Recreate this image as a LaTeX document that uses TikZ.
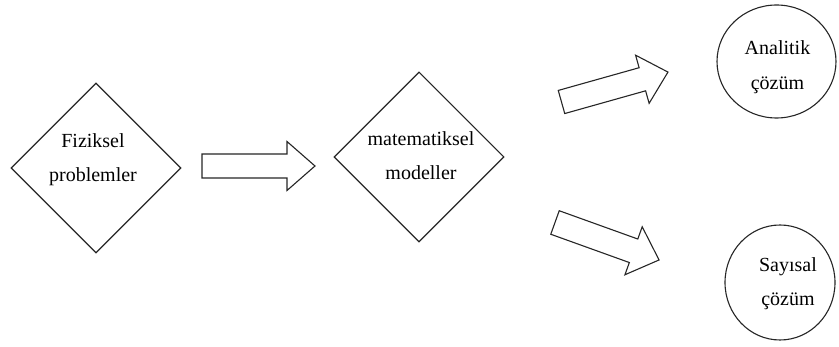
\documentclass[tikz,border=0pt]{standalone}
\usepackage{fontspec}
\setmainfont{Liberation Serif}
\usetikzlibrary{shapes.geometric}
\tikzset{
  shapeline/.style={draw=black!85, line width=1.1pt, fill=white},
  diam/.style={shapeline, diamond, aspect=1, minimum width=170pt, minimum height=170pt, inner sep=0pt},
  oval/.style={shapeline, ellipse, inner sep=0pt},
  lbl/.style={anchor=base, inner sep=0pt, font=\fontsize{20}{24}\selectfont, text=black},
  blockarrow/.style={draw=black!85, line width=1.1pt, line join=miter, fill=white}
}
\begin{document}
\begin{tikzpicture}[x=1pt, y=-1pt]
\useasboundingbox (0,0) rectangle (839,347);
% diamonds
\node[diam] (d1) at (96,168) {};
\node[diam] (d2) at (419,157) {};
% ellipses
\node[oval, minimum width=119pt, minimum height=113pt] (c1) at (776.5,61.5) {};
\node[oval, minimum width=110pt, minimum height=115pt] (c2) at (780,282.5) {};
% labels
\node[lbl] (t1a) at (93,148) {Fiziksel};
\node[lbl] (t1b) at (93,182) {problemler};
\node[lbl] (t2a) at (421,146) {matematiksel};
\node[lbl] (t2b) at (421,180) {modeller};
\node[lbl] (t3a) at (777.5,55) {Analitik};
\node[lbl] (t3b) at (777.5,90) {çözüm};
\node[lbl] (t4a) at (788,272) {Sayısal};
\node[lbl] (t4b) at (788,306) {çözüm};
% block arrows
\begin{scope}[shift={(202,166)}]
  \draw[blockarrow] (0,-12) -- (85,-12) -- (85,-24.5) -- (113,0) -- (85,24.5) -- (85,12) -- (0,12) -- cycle;
\end{scope}
\begin{scope}[shift={(561.5,102)}, rotate=15.7]
  \draw[blockarrow] (0,-12) -- (84,-12) -- (84,-25) -- (110.6,0) -- (84,25) -- (84,12) -- (0,12) -- cycle;
\end{scope}
\begin{scope}[shift={(555,222.5)}, rotate=-19.8]
  \draw[blockarrow] (0,-12.5) -- (83.5,-12.5) -- (83.5,-25.5) -- (110.6,0) -- (83.5,25.5) -- (83.5,12.5) -- (0,12.5) -- cycle;
\end{scope}
\end{tikzpicture}
\end{document}
